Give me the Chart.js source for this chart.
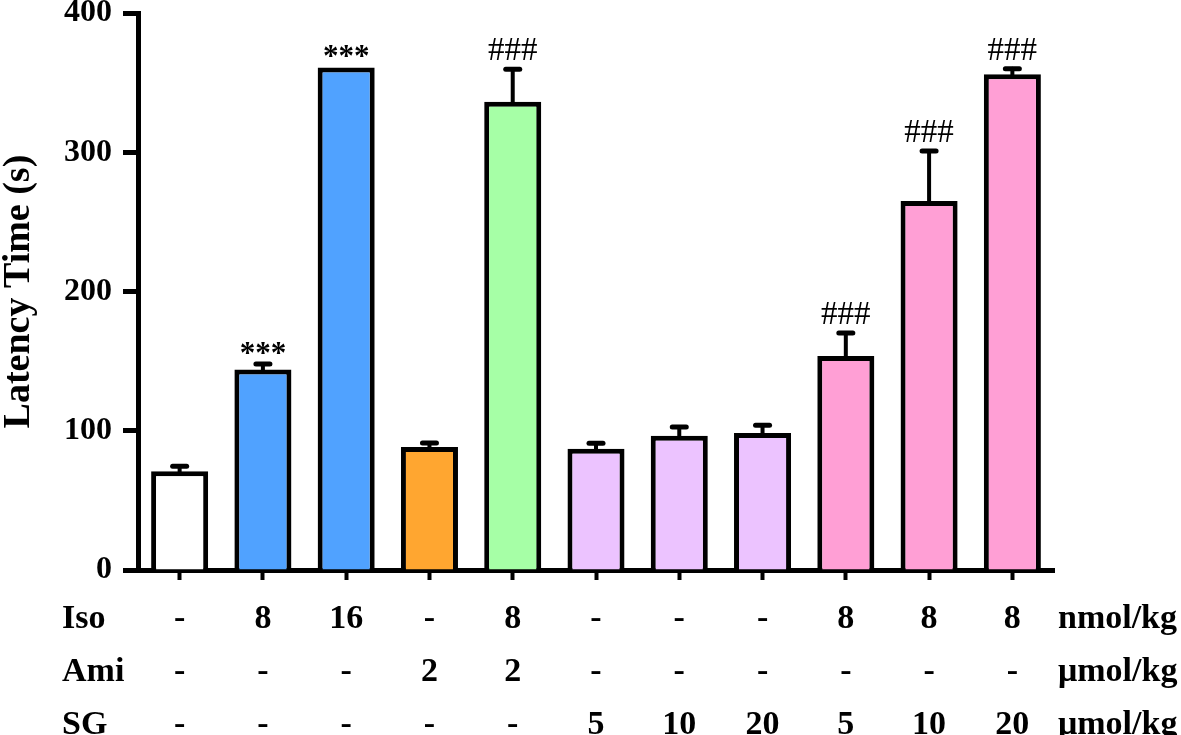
<!DOCTYPE html>
<html>
<head>
<meta charset="utf-8">
<script src="https://cdn.jsdelivr.net/npm/chart.js@4.4.0/dist/chart.umd.min.js"></script>
<style>
html,body{margin:0;padding:0;background:#fff;}
#wrap{width:1181px;height:735px;position:relative;}
</style>
</head>
<body>
<div id="wrap"><canvas id="c" width="1181" height="735"></canvas></div>
<script>
// ---- data ----
const categories = ['Control','Iso 8','Iso 16','Ami 2','Iso 8 + Ami 2','SG 5','SG 10','SG 20','Iso 8 + SG 5','Iso 8 + SG 10','Iso 8 + SG 20'];
const latency = [71, 144, 361, 88.4, 336.4, 87, 96.5, 98.4, 153.7, 265, 356];
const errorSEM = [3.6, 4, 0, 2.8, 23.3, 4, 6.2, 5.6, 16.6, 36, 4];
const significance = ['', '***', '***', '', '###', '', '', '', '###', '###', '###'];
const barColors = ['#FFFFFF','#50A2FF','#50A2FF','#FFA630','#A6FFA6','#ECC3FF','#ECC3FF','#ECC3FF','#FF9FD5','#FF9FD5','#FF9FD5'];
const isoDose = ['-','8','16','-','8','-','-','-','8','8','8'];
const amiDose = ['-','-','-','2','2','-','-','-','-','-','-'];
const sgDose  = ['-','-','-','-','-','5','10','20','5','10','20'];
const rowLabels = ['Iso','Ami','SG'];
const rowUnits = ['nmol/kg','\u03bcmol/kg','\u03bcmol/kg'];
const yTickValues = [0, 100, 200, 300, 400];

const SERIF = '"Liberation Serif", "Times New Roman", serif';
const TABLE_FONT = 34;
const TABLE_LINE = 53;
const X_TICK_LEN = 10;
const X_TICK_PAD = 13;

const errorBars = {
  id: 'errorBars',
  afterDatasetsDraw(chart) {
    const ctx = chart.ctx;
    const meta = chart.getDatasetMeta(0);
    const y = chart.scales.y;
    ctx.save();
    ctx.strokeStyle = '#000';
    ctx.lineCap = 'round';
    meta.data.forEach((bar, i) => {
      const err = errorSEM[i];
      const yTop = y.getPixelForValue(latency[i] + err);
      if (err > 1) {
        ctx.lineWidth = 4;
        ctx.beginPath();
        ctx.moveTo(bar.x, bar.y);
        ctx.lineTo(bar.x, yTop);
        ctx.stroke();
        ctx.lineWidth = 5;
        ctx.beginPath();
        ctx.moveTo(bar.x - 7, yTop);
        ctx.lineTo(bar.x + 7, yTop);
        ctx.stroke();
      }
      const s = significance[i];
      if (s) {
        ctx.fillStyle = '#000';
        ctx.textAlign = 'center';
        ctx.textBaseline = 'alphabetic';
        if (s[0] === '*') {
          ctx.font = 'bold 31px ' + SERIF;
          ctx.fillText(s, bar.x, yTop - 1);
        } else {
          ctx.font = 'normal 33px ' + SERIF;
          ctx.fillText(s, bar.x, yTop - 9);
        }
      }
    });
    ctx.restore();
  }
};

const tableLabels = {
  id: 'tableLabels',
  afterDraw(chart) {
    const ctx = chart.ctx;
    const xs = chart.scales.x;
    ctx.save();
    ctx.fillStyle = '#000';
    ctx.font = 'bold ' + TABLE_FONT + 'px ' + SERIF;
    ctx.textBaseline = 'middle';
    const y0 = xs.top + X_TICK_LEN + X_TICK_PAD;
    rowLabels.forEach((lab, r) => {
      const yy = y0 + TABLE_LINE * (r + 0.5);
      ctx.textAlign = 'left';
      ctx.fillText(lab, 62, yy);
      ctx.fillText(rowUnits[r], 1058, yy);
    });
    ctx.restore();
  }
};

new Chart(document.getElementById('c'), {
  type: 'bar',
  data: {
    labels: categories,
    datasets: [{
      data: latency,
      backgroundColor: barColors,
      borderColor: '#000',
      borderWidth: 5,
      borderSkipped: 'start',
      categoryPercentage: 1,
      barPercentage: 0.685
    }]
  },
  options: {
    responsive: false,
    animation: false,
    devicePixelRatio: 1,
    layout: { padding: { left: 0, right: 127, top: 0, bottom: 0 } },
    plugins: { legend: { display: false }, tooltip: { enabled: false } },
    scales: {
      x: {
        afterFit(scale) { scale.height = 165; },
        grid: { offset: false, drawOnChartArea: false, drawTicks: true, tickLength: X_TICK_LEN, tickWidth: 4, tickColor: '#000' },
        border: { display: true, color: '#000', width: 5 },
        ticks: {
          autoSkip: false,
          maxRotation: 0,
          padding: X_TICK_PAD,
          color: '#000',
          font: { family: SERIF, size: TABLE_FONT, weight: 'bold', lineHeight: TABLE_LINE / TABLE_FONT },
          callback: (v, i) => [isoDose[i], amiDose[i], sgDose[i]]
        }
      },
      y: {
        min: 0, max: 400,
        afterFit(scale) { scale.width = 138; },
        afterBuildTicks(scale) { scale.ticks = yTickValues.map(v => ({ value: v })); },
        grid: { drawOnChartArea: false, drawTicks: true, tickLength: 15, tickWidth: 5, tickColor: '#000' },
        border: { display: true, color: '#000', width: 5 },
        ticks: {
          padding: 11,
          color: '#000',
          font: { family: SERIF, size: 32, weight: 'bold', lineHeight: 0.13 }
        },
        title: {
          display: true,
          text: 'Latency Time (s)',
          color: '#000',
          padding: { top: 0, bottom: 0 },
          font: { family: SERIF, size: 38, weight: 'bold', lineHeight: 1.0 }
        }
      }
    }
  },
  plugins: [errorBars, tableLabels]
});
</script>
</body>
</html>
